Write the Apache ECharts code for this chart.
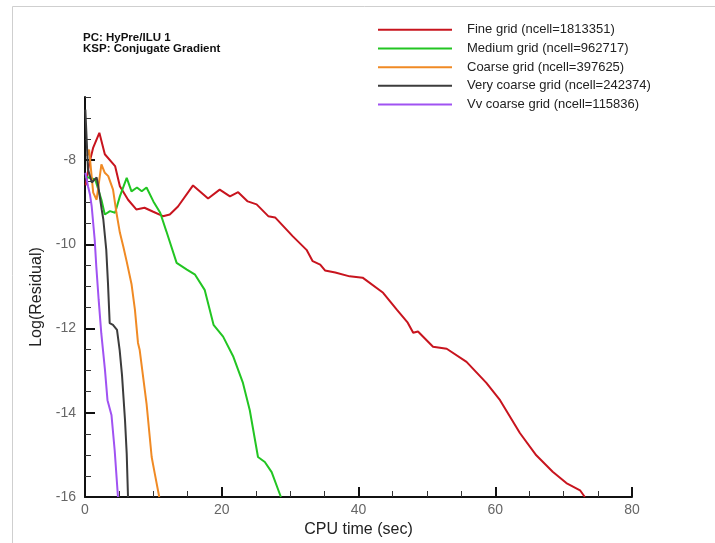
<!DOCTYPE html>
<html><head><meta charset="utf-8">
<script src="https://cdn.jsdelivr.net/npm/echarts@6/dist/echarts.min.js"></script>
<style>html,body{margin:0;padding:0;background:#fff}#c{width:715px;height:543px}</style>
</head><body><div id="c"></div>
<script>
const seriesNames = [
  'Fine grid (ncell=1813351)',
  'Medium grid (ncell=962717)',
  'Coarse grid (ncell=397625)',
  'Very coarse grid (ncell=242374)',
  'Vv coarse grid (ncell=115836)'
];
const fine = [[0.1,-8.6],[0.6,-8.1],[1.2,-7.7],[2.1,-7.35],[2.9,-7.86],[4.4,-8.14],[5.1,-8.62],[6.3,-8.94],[7.5,-9.17],[8.7,-9.13],[9.9,-9.22],[11.4,-9.33],[12.4,-9.29],[13.6,-9.1],[15.8,-8.6],[18.0,-8.91],[19.7,-8.7],[21.2,-8.86],[22.4,-8.76],[23.8,-8.98],[25.1,-9.05],[26.8,-9.33],[27.8,-9.36],[30.4,-9.81],[32.4,-10.13],[33.3,-10.4],[34.4,-10.48],[35.1,-10.62],[36.6,-10.67],[38.7,-10.76],[40.6,-10.79],[43.6,-11.15],[45.6,-11.55],[47.2,-11.86],[48.0,-12.1],[48.7,-12.07],[50.9,-12.43],[52.9,-12.48],[55.8,-12.79],[58.7,-13.29],[60.7,-13.7],[63.6,-14.48],[66.0,-15.01],[68.4,-15.4],[70.4,-15.67],[72.4,-15.84],[73.1,-16.0]];
const medium = [[0.0,-8.39],[1.5,-8.46],[2.4,-8.94],[2.9,-9.29],[3.65,-9.21],[4.4,-9.25],[5.1,-8.86],[6.1,-8.42],[6.8,-8.74],[7.6,-8.65],[8.3,-8.74],[9.0,-8.65],[10.0,-8.98],[11.0,-9.25],[11.9,-9.69],[13.4,-10.44],[14.9,-10.6],[16.1,-10.72],[17.5,-11.08],[18.8,-11.91],[20.2,-12.19],[21.7,-12.67],[23.1,-13.29],[24.1,-13.94],[25.3,-15.05],[26.3,-15.17],[27.3,-15.41],[28.65,-16.0]];
const coarse = [[0.3,-7.9],[0.6,-7.75],[1.2,-8.77],[1.7,-8.94],[2.4,-8.1],[2.9,-8.3],[3.4,-8.38],[3.65,-8.34],[4.1,-8.7],[4.6,-9.25],[5.1,-9.72],[5.6,-10.05],[6.1,-10.41],[6.8,-10.94],[7.3,-11.55],[7.75,-12.34],[8.0,-12.51],[9.0,-13.78],[9.75,-15.05],[10.2,-15.44],[10.86,-16.0]];
const veryCoarse = [[0.05,-6.8],[0.44,-8.22],[1.0,-8.53],[1.7,-8.41],[1.94,-8.62],[2.44,-9.17],[2.68,-9.41],[3.11,-10.13],[3.36,-10.92],[3.61,-11.87],[4.09,-11.91],[4.68,-12.03],[5.07,-12.51],[5.41,-13.1],[5.85,-14.17],[6.1,-14.97],[6.29,-16.0]];
const vvCoarse = [[0.05,-8.3],[0.44,-8.62],[0.73,-8.82],[0.98,-9.1],[1.42,-9.89],[1.65,-10.52],[2.0,-11.32],[2.38,-12.11],[2.63,-12.51],[2.92,-12.98],[3.29,-13.7],[3.87,-14.05],[4.34,-14.89],[4.82,-16.0]];
const colors = ['#c8141e', '#22c522', '#f08a24', '#3c3c3c', '#a052f2'];
const yMajorTicks = [-16, -14, -12, -10, -8];
const yMinorTicks = [-15.5,-15,-14.5,-13.5,-13,-12.5,-11.5,-11,-10.5,-9.5,-9,-8.5,-7.5,-7,-6.5];
const annotation = ['PC: HyPre/ILU 1', 'KSP: Conjugate Gradient'];

const chart = echarts.init(document.getElementById('c'));
const dataSets = [fine, medium, coarse, veryCoarse, vvCoarse];
const font = 'Liberation Sans, Arial, sans-serif';
chart.setOption({
  animation: false,
  backgroundColor: '#fff',
  color: colors,
  grid: {left: 85, right: 83, top: 97, bottom: 46, containLabel: false},
  legend: {
    orient: 'vertical', left: 378, top: 22, padding: 0, itemWidth: 74, itemHeight: 2, itemGap: 3.2,
    icon: 'rect',
    data: seriesNames,
    textStyle: {fontSize: 13, color: '#222', fontFamily: font, padding: [0,0,0,10], lineHeight: 15.5}
  },
  graphic: [
    {type: 'rect', shape: {x: 12.5, y: 6.5, width: 900, height: 900}, style: {fill: 'none', stroke: '#cfcfcf', lineWidth: 1}, silent: true},
    {type: 'text', left: 83, top: 32, style: {text: annotation.join('\n'), font: 'bold 11.5px ' + font, fill: '#111', lineHeight: 10.5}}
  ],
  xAxis: {
    type: 'value', min: 0, max: 80, interval: 20,
    name: 'CPU time (sec)', nameLocation: 'middle', nameGap: 22,
    nameTextStyle: {fontSize: 16, color: '#222', fontFamily: font},
    axisLine: {show: true, lineStyle: {color: '#111', width: 2}},
    axisTick: {show: true, inside: true, length: 10, lineStyle: {color: '#111', width: 2}},
    minorTick: {show: true, splitNumber: 4, length: 6, lineStyle: {color: '#333', width: 1}},
    axisLabel: {fontSize: 14, color: '#666', margin: 6, fontFamily: font},
    splitLine: {show: false}, minorSplitLine: {show: false}
  },
  yAxis: [{
    type: 'value', min: -16, max: -6.5,
    name: 'Log(Residual)', nameLocation: 'middle', nameGap: 39, nameRotate: 90,
    nameTextStyle: {fontSize: 16, color: '#222', fontFamily: font},
    axisLine: {show: true, lineStyle: {color: '#111', width: 2}},
    axisTick: {show: true, inside: true, length: 10, customValues: yMajorTicks, lineStyle: {color: '#111', width: 2}},
    axisLabel: {fontSize: 14, color: '#666', margin: 9, fontFamily: font, customValues: yMajorTicks},
    splitLine: {show: false}
  }, {
    type: 'value', min: -16, max: -6.5, position: 'left',
    axisLine: {show: false},
    axisTick: {show: true, inside: true, length: 6, customValues: yMinorTicks, lineStyle: {color: '#333', width: 1}},
    axisLabel: {show: false},
    splitLine: {show: false}
  }],
  series: dataSets.map((d, i) => ({
    name: seriesNames[i], type: 'line', data: d, yAxisIndex: 0,
    symbol: 'none', smooth: false, clip: true,
    lineStyle: {width: 2, color: colors[i]}, itemStyle: {color: colors[i]}
  }))
});
</script></body></html>
